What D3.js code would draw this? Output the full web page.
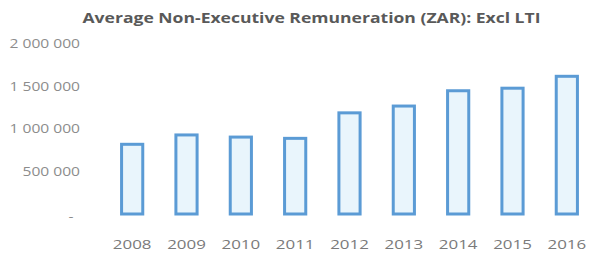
<!DOCTYPE html>
<html>
<head>
<meta charset="utf-8">
<title>Average Non-Executive Remuneration</title>
<script src="https://cdn.jsdelivr.net/npm/d3@7"></script>
<style>
  body { margin: 0; background: #fff; }
  text { font-family: "Open Sans", sans-serif; }
</style>
</head>
<body>
<svg width="590" height="257"></svg>
<script>
// data
var years = ['2008', '2009', '2010', '2011', '2012', '2013', '2014', '2015', '2016'];
var remuneration = [820000, 930000, 905000, 890000, 1190000, 1270000, 1450000, 1480000, 1620000];
var yTicks = [0, 500000, 1000000, 1500000, 2000000];
var title = 'Average Non-Executive Remuneration (ZAR): Excl LTI';

var svg = d3.select('svg');

var x = d3.scaleBand()
    .domain(years)
    .range([105, 594])
    .paddingInner(0.61)
    .paddingOuter(0.305);

var y = d3.scaleLinear()
    .domain([0, 2000000])
    .range([214, 44]);

var fmt = d3.formatLocale({ decimal: '.', thousands: ' ', grouping: [3], currency: ['', ''] }).format(',.0f');

// title
svg.append('text')
    .attr('x', 311.5)
    .attr('y', 23)
    .attr('text-anchor', 'middle')
    .attr('font-size', '13.5px')
    .attr('font-weight', 700)
    .attr('fill', '#595959')
    .attr('textLength', 458)
    .attr('lengthAdjust', 'spacingAndGlyphs')
    .text(title);

// y axis (labels only)
var yAxis = svg.append('g')
    .attr('transform', 'translate(80,0)')
    .call(d3.axisLeft(y).tickValues(yTicks).tickSize(0).tickPadding(0)
        .tickFormat(function(d) { return d === 0 ? '-' : fmt(d); }));
yAxis.select('.domain').remove();
yAxis.selectAll('text')
    .attr('font-family', '"Open Sans", sans-serif')
    .attr('font-size', '12px')
    .attr('fill', '#8c8c8c')
    .attr('transform', 'scale(1.3,1)')
    .attr('dx', function(d) { return d === 0 ? -5 : 0; })
    .attr('dy', function(d) { return d === 0 ? '0.55em' : '0.32em'; });

// x axis (labels only)
var xAxis = svg.append('g')
    .attr('transform', 'translate(0,214)')
    .call(d3.axisBottom(x).tickSize(0).tickPadding(26));
xAxis.select('.domain').remove();
xAxis.selectAll('text')
    .attr('font-family', '"Open Sans", sans-serif')
    .attr('font-size', '13px')
    .attr('fill', '#7a7a7a')
    .attr('transform', 'scale(1.3,1)');

// bars
svg.selectAll('rect.bar')
    .data(remuneration)
    .enter()
    .append('rect')
    .attr('class', 'bar')
    .attr('x', function(d, i) { return x(years[i]); })
    .attr('y', function(d) { return y(d); })
    .attr('width', x.bandwidth())
    .attr('height', function(d) { return y(0) - y(d); })
    .attr('fill', '#e9f5fc')
    .attr('stroke', '#5b9bd5')
    .attr('stroke-width', 3);
</script>
</body>
</html>
